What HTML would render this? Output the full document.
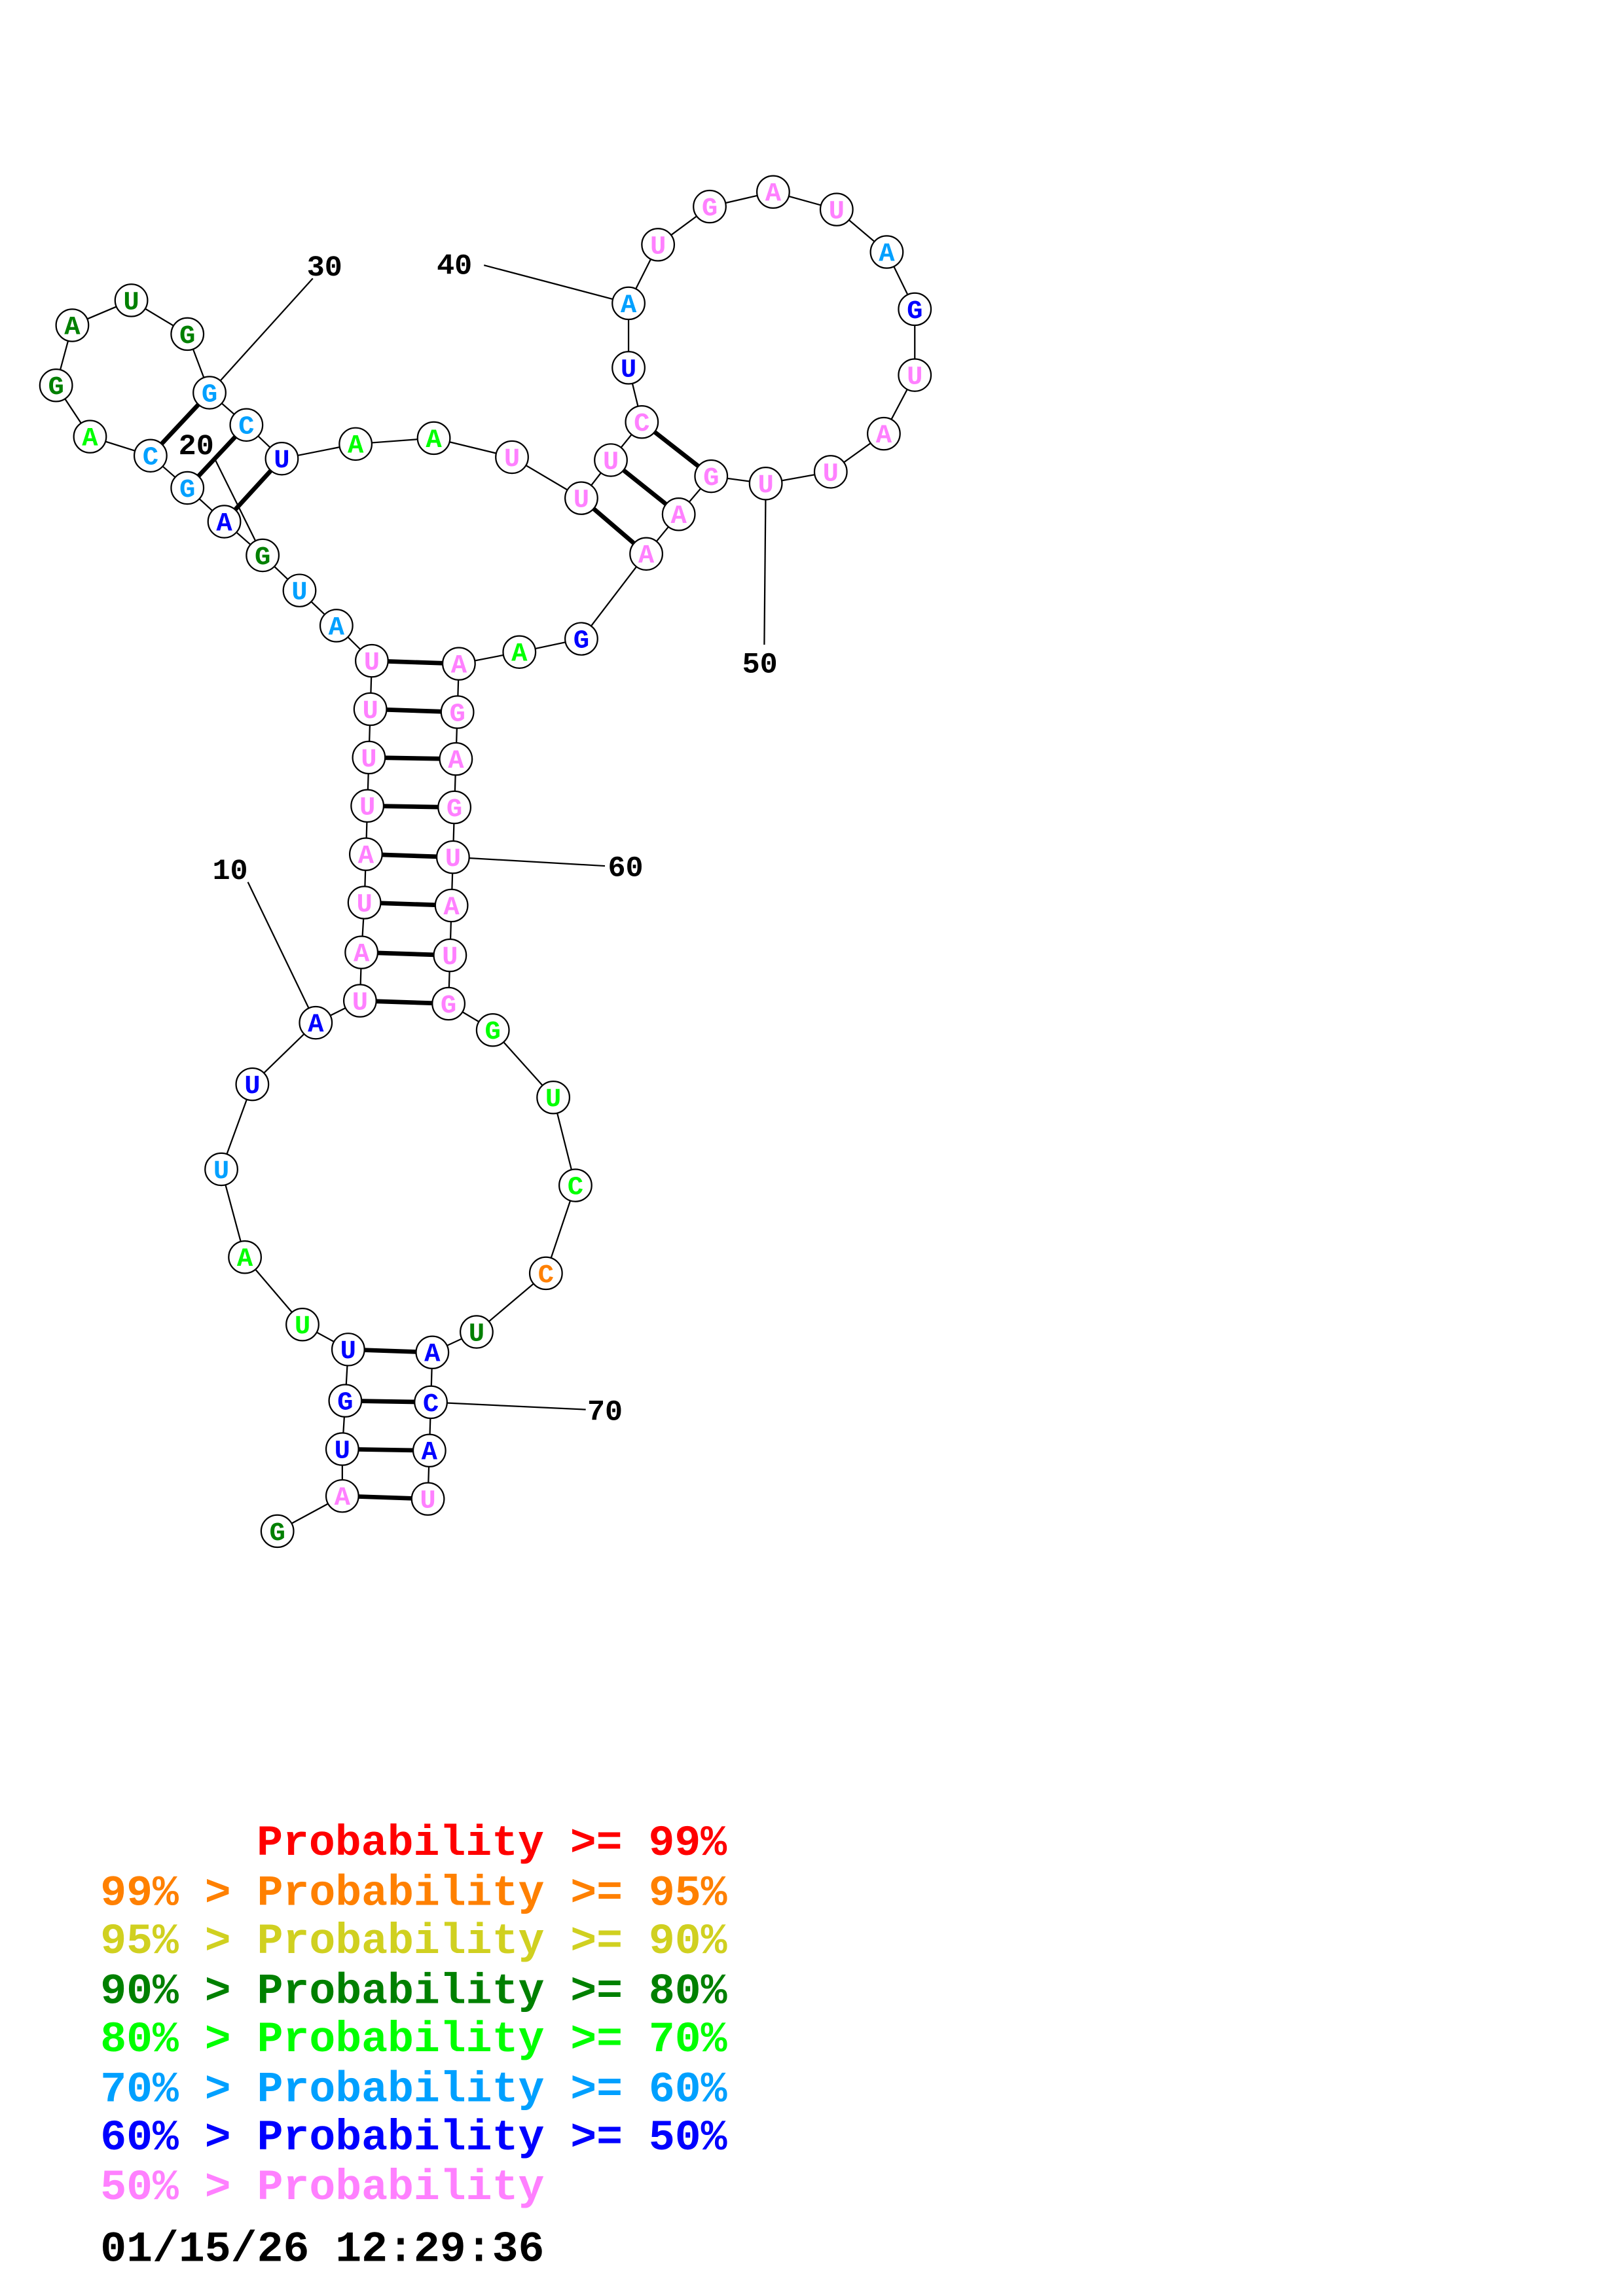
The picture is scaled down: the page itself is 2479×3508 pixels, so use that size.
<!DOCTYPE html>
<html><head><meta charset="utf-8"><style>
html,body{margin:0;padding:0;background:#fff;}
svg{display:block;}
text{font-family:"Liberation Mono",monospace;font-weight:bold;}
.n{font-size:18px;text-anchor:middle;}
.l{font-size:20px;fill:#000;}
.g{font-size:29.5px;}
</style></head><body>
<svg width="2479" height="3508" viewBox="0 0 1100 1567" preserveAspectRatio="none" xmlns="http://www.w3.org/2000/svg">
<rect width="1100" height="1567" fill="#fff"/>
<g stroke="#000" stroke-width="1" fill="none">
<polyline points="188,1045 232,1021 232,989 234,956 236,921 205,904 166,858 150,798 171,740 214,698 244,683 245,650 247,616 248,583 249,550 250,517 251,484 252,451 228,427 203,403 178,379 152,356 127,333 102,311 61,298 38,263 49,222 89,205 127,228 142,268 167,290 191,313 241,303 294,299 347,312 394,340 414,314 435,288 426,251 426,207 446,167 481,141 524,131 567,143 601,172 620,211 620,256 599,296 563,322 519,330 482,325 460,351 438,378 394,436 352,445 311,453 310,486 309,518 308,551 307,585 306,618 305,652 304,685 334,703 375,749 390,809 370,869 323,909 293,923 292,957 291,990 290,1023"/>
<line x1="168" y1="602" x2="214" y2="698"/>
<line x1="145" y1="312" x2="178" y2="379"/>
<line x1="212" y1="190" x2="142" y2="268"/>
<line x1="328" y1="181" x2="426" y2="207"/>
<line x1="518" y1="440" x2="519" y2="330"/>
<line x1="410" y1="591" x2="307" y2="585"/>
<line x1="397" y1="962" x2="292" y2="957"/>
</g>
<g stroke="#000" stroke-width="3">
<line x1="244" y1="683" x2="304" y2="685"/><line x1="245" y1="650" x2="305" y2="652"/>
<line x1="247" y1="616" x2="306" y2="618"/><line x1="248" y1="583" x2="307" y2="585"/>
<line x1="249" y1="550" x2="308" y2="551"/><line x1="250" y1="517" x2="309" y2="518"/>
<line x1="251" y1="484" x2="310" y2="486"/><line x1="252" y1="451" x2="311" y2="453"/>
<line x1="232" y1="1021" x2="290" y2="1023"/><line x1="232" y1="989" x2="291" y2="990"/>
<line x1="234" y1="956" x2="292" y2="957"/><line x1="236" y1="921" x2="293" y2="923"/>
<line x1="394" y1="340" x2="438" y2="378"/><line x1="414" y1="314" x2="460" y2="351"/>
<line x1="435" y1="288" x2="482" y2="325"/>
<line x1="152" y1="356" x2="191" y2="313"/><line x1="127" y1="333" x2="167" y2="290"/>
<line x1="102" y1="311" x2="142" y2="268"/>
</g>
<g fill="#fff" stroke="#000" stroke-width="1">
<circle cx="188" cy="1045" r="11"/><circle cx="232" cy="1021" r="11"/><circle cx="232" cy="989" r="11"/><circle cx="234" cy="956" r="11"/><circle cx="236" cy="921" r="11"/><circle cx="205" cy="904" r="11"/><circle cx="166" cy="858" r="11"/><circle cx="150" cy="798" r="11"/><circle cx="171" cy="740" r="11"/><circle cx="214" cy="698" r="11"/><circle cx="244" cy="683" r="11"/><circle cx="245" cy="650" r="11"/><circle cx="247" cy="616" r="11"/><circle cx="248" cy="583" r="11"/><circle cx="249" cy="550" r="11"/><circle cx="250" cy="517" r="11"/><circle cx="251" cy="484" r="11"/><circle cx="252" cy="451" r="11"/><circle cx="228" cy="427" r="11"/><circle cx="203" cy="403" r="11"/><circle cx="178" cy="379" r="11"/><circle cx="152" cy="356" r="11"/><circle cx="127" cy="333" r="11"/><circle cx="102" cy="311" r="11"/><circle cx="61" cy="298" r="11"/><circle cx="38" cy="263" r="11"/><circle cx="49" cy="222" r="11"/><circle cx="89" cy="205" r="11"/><circle cx="127" cy="228" r="11"/><circle cx="142" cy="268" r="11"/><circle cx="167" cy="290" r="11"/><circle cx="191" cy="313" r="11"/><circle cx="241" cy="303" r="11"/><circle cx="294" cy="299" r="11"/><circle cx="347" cy="312" r="11"/><circle cx="394" cy="340" r="11"/><circle cx="414" cy="314" r="11"/><circle cx="435" cy="288" r="11"/><circle cx="426" cy="251" r="11"/><circle cx="426" cy="207" r="11"/><circle cx="446" cy="167" r="11"/><circle cx="481" cy="141" r="11"/><circle cx="524" cy="131" r="11"/><circle cx="567" cy="143" r="11"/><circle cx="601" cy="172" r="11"/><circle cx="620" cy="211" r="11"/><circle cx="620" cy="256" r="11"/><circle cx="599" cy="296" r="11"/><circle cx="563" cy="322" r="11"/><circle cx="519" cy="330" r="11"/><circle cx="482" cy="325" r="11"/><circle cx="460" cy="351" r="11"/><circle cx="438" cy="378" r="11"/><circle cx="394" cy="436" r="11"/><circle cx="352" cy="445" r="11"/><circle cx="311" cy="453" r="11"/><circle cx="310" cy="486" r="11"/><circle cx="309" cy="518" r="11"/><circle cx="308" cy="551" r="11"/><circle cx="307" cy="585" r="11"/><circle cx="306" cy="618" r="11"/><circle cx="305" cy="652" r="11"/><circle cx="304" cy="685" r="11"/><circle cx="334" cy="703" r="11"/><circle cx="375" cy="749" r="11"/><circle cx="390" cy="809" r="11"/><circle cx="370" cy="869" r="11"/><circle cx="323" cy="909" r="11"/><circle cx="293" cy="923" r="11"/><circle cx="292" cy="957" r="11"/><circle cx="291" cy="990" r="11"/><circle cx="290" cy="1023" r="11"/>
</g>
<g class="n">
<text x="188" y="1051" fill="#008000">G</text>
<text x="232" y="1027" fill="#ff80ff">A</text>
<text x="232" y="995" fill="#0000ff">U</text>
<text x="234" y="962" fill="#0000ff">G</text>
<text x="236" y="927" fill="#0000ff">U</text>
<text x="205" y="910" fill="#00ff00">U</text>
<text x="166" y="864" fill="#00ff00">A</text>
<text x="150" y="804" fill="#00a0ff">U</text>
<text x="171" y="746" fill="#0000ff">U</text>
<text x="214" y="704" fill="#0000ff">A</text>
<text x="244" y="689" fill="#ff80ff">U</text>
<text x="245" y="656" fill="#ff80ff">A</text>
<text x="247" y="622" fill="#ff80ff">U</text>
<text x="248" y="589" fill="#ff80ff">A</text>
<text x="249" y="556" fill="#ff80ff">U</text>
<text x="250" y="523" fill="#ff80ff">U</text>
<text x="251" y="490" fill="#ff80ff">U</text>
<text x="252" y="457" fill="#ff80ff">U</text>
<text x="228" y="433" fill="#00a0ff">A</text>
<text x="203" y="409" fill="#00a0ff">U</text>
<text x="178" y="385" fill="#008000">G</text>
<text x="152" y="362" fill="#0000ff">A</text>
<text x="127" y="339" fill="#00a0ff">G</text>
<text x="102" y="317" fill="#00a0ff">C</text>
<text x="61" y="304" fill="#00ff00">A</text>
<text x="38" y="269" fill="#008000">G</text>
<text x="49" y="228" fill="#008000">A</text>
<text x="89" y="211" fill="#008000">U</text>
<text x="127" y="234" fill="#008000">G</text>
<text x="142" y="274" fill="#00a0ff">G</text>
<text x="167" y="296" fill="#00a0ff">C</text>
<text x="191" y="319" fill="#0000ff">U</text>
<text x="241" y="309" fill="#00ff00">A</text>
<text x="294" y="305" fill="#00ff00">A</text>
<text x="347" y="318" fill="#ff80ff">U</text>
<text x="394" y="346" fill="#ff80ff">U</text>
<text x="414" y="320" fill="#ff80ff">U</text>
<text x="435" y="294" fill="#ff80ff">C</text>
<text x="426" y="257" fill="#0000ff">U</text>
<text x="426" y="213" fill="#00a0ff">A</text>
<text x="446" y="173" fill="#ff80ff">U</text>
<text x="481" y="147" fill="#ff80ff">G</text>
<text x="524" y="137" fill="#ff80ff">A</text>
<text x="567" y="149" fill="#ff80ff">U</text>
<text x="601" y="178" fill="#00a0ff">A</text>
<text x="620" y="217" fill="#0000ff">G</text>
<text x="620" y="262" fill="#ff80ff">U</text>
<text x="599" y="302" fill="#ff80ff">A</text>
<text x="563" y="328" fill="#ff80ff">U</text>
<text x="519" y="336" fill="#ff80ff">U</text>
<text x="482" y="331" fill="#ff80ff">G</text>
<text x="460" y="357" fill="#ff80ff">A</text>
<text x="438" y="384" fill="#ff80ff">A</text>
<text x="394" y="442" fill="#0000ff">G</text>
<text x="352" y="451" fill="#00ff00">A</text>
<text x="311" y="459" fill="#ff80ff">A</text>
<text x="310" y="492" fill="#ff80ff">G</text>
<text x="309" y="524" fill="#ff80ff">A</text>
<text x="308" y="557" fill="#ff80ff">G</text>
<text x="307" y="591" fill="#ff80ff">U</text>
<text x="306" y="624" fill="#ff80ff">A</text>
<text x="305" y="658" fill="#ff80ff">U</text>
<text x="304" y="691" fill="#ff80ff">G</text>
<text x="334" y="709" fill="#00ff00">G</text>
<text x="375" y="755" fill="#00ff00">U</text>
<text x="390" y="815" fill="#00ff00">C</text>
<text x="370" y="875" fill="#ff8000">C</text>
<text x="323" y="915" fill="#008000">U</text>
<text x="293" y="929" fill="#0000ff">A</text>
<text x="292" y="963" fill="#0000ff">C</text>
<text x="291" y="996" fill="#0000ff">A</text>
<text x="290" y="1029" fill="#ff80ff">U</text>
</g>
<g class="l">
<text x="144" y="600">10</text>
<text x="121" y="310">20</text>
<text x="208" y="188">30</text>
<text x="296" y="187">40</text>
<text x="503" y="459">50</text>
<text x="412" y="598">60</text>
<text x="398" y="969">70</text>
</g>
<g class="g">
<text x="174" y="1266" fill="#ff0000">Probability &gt;= 99%</text>
<text x="68" y="1300" fill="#ff8000">99% &gt; Probability &gt;= 95%</text>
<text x="68" y="1333" fill="#d0d020">95% &gt; Probability &gt;= 90%</text>
<text x="68" y="1367" fill="#008000">90% &gt; Probability &gt;= 80%</text>
<text x="68" y="1400" fill="#00ff00">80% &gt; Probability &gt;= 70%</text>
<text x="68" y="1434" fill="#00a0ff">70% &gt; Probability &gt;= 60%</text>
<text x="68" y="1467" fill="#0000ff">60% &gt; Probability &gt;= 50%</text>
<text x="68" y="1501" fill="#ff80ff">50% &gt; Probability</text>
<text x="68" y="1543" fill="#000">01/15/26 12:29:36</text>
</g>
</svg>
</body></html>
